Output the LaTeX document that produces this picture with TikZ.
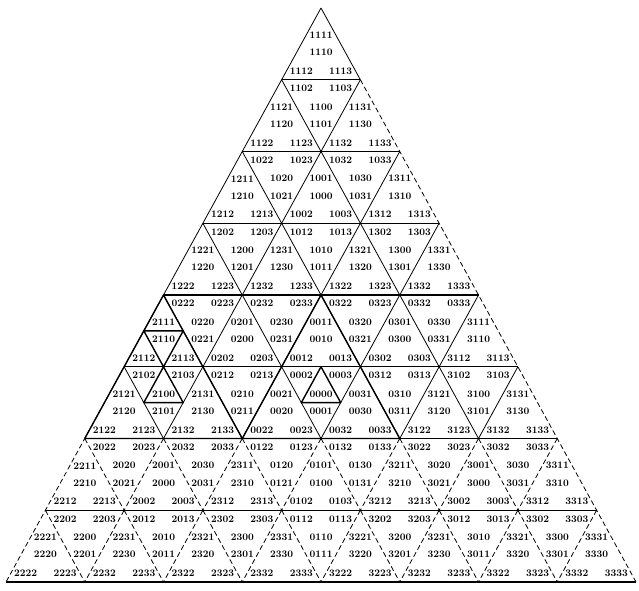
\documentclass[tikz,border=0pt]{standalone}
\usetikzlibrary{calc}
\tikzset{
  lbl/.style={font=\fontsize{10}{10}\selectfont\bfseries, inner sep=0pt},
  grid/.style={line width=0.8pt},
  broken/.style={line width=0.8pt, dash pattern=on 5pt off 3pt},
  rowline/.style={line width=1.4pt},
  hilite/.style={line width=1.4pt, line join=round}
}
% x, y of the corner, side, height, orientation (1 up, -1 down), address, level
\newcommand\subtri[7]{%
  \ifnum#7=4
    \node[lbl] (a#6) at (#1, {#2-(#5)*0.76*#4}) {#6};
  \else
    \begingroup
      \pgfmathsetmacro\qs{#3/2}%
      \pgfmathsetmacro\qh{#4/2}%
      \pgfmathsetmacro\ql{#1-#3/4}%
      \pgfmathsetmacro\qr{#1+#3/4}%
      \pgfmathsetmacro\qm{#2-(#5)*#4/2}%
      \pgfmathsetmacro\qb{#2-(#5)*#4}%
      \pgfmathtruncatemacro\qo{-(#5)}%
      \pgfmathtruncatemacro\qn{#7+1}%
      \edef\qcalls{%
        \noexpand\subtri{#1}{#2}{\qs}{\qh}{#5}{#61}{\qn}%
        \noexpand\subtri{\ql}{\qm}{\qs}{\qh}{#5}{#62}{\qn}%
        \noexpand\subtri{\qr}{\qm}{\qs}{\qh}{#5}{#63}{\qn}%
        \noexpand\subtri{#1}{\qb}{\qs}{\qh}{\qo}{#60}{\qn}}%
      \qcalls
    \endgroup
  \fi}
\begin{document}
\begin{tikzpicture}[x=1pt,y=1pt]
\useasboundingbox (0,0) rectangle (639,590);
\foreach \k in {0,...,8}
  \foreach \j in {0,...,\k}
    \coordinate (v\k-\j) at ({321+(\j-\k/2)*78.75}, {582-\k*71.75});
% slanted lines
\foreach \r in {0,...,5}{
  \pgfmathtruncatemacro\rn{\r+1}
  \foreach \j in {0,...,\r}{
    \pgfmathtruncatemacro\jn{\j+1}
    \ifnum\j>0 \draw[grid] (v\r-\j) -- (v\rn-\j); \fi
    \ifnum\j<\r \draw[grid] (v\r-\j) -- (v\rn-\jn); \fi
  }
}
\foreach \r in {6,7}{
  \pgfmathtruncatemacro\rn{\r+1}
  \foreach \j in {0,...,\r}{
    \pgfmathtruncatemacro\jn{\j+1}
    \ifnum\j>0 \draw[broken] (v\r-\j) -- (v\rn-\j); \fi
    \ifnum\j<\r \draw[broken] (v\r-\j) -- (v\rn-\jn); \fi
  }
}
\draw[grid] (v0-0) -- (v5-0);
\draw[broken] (v5-0) -- (v8-0);
\draw[grid] (v0-0) -- (v1-1);
\draw[broken] (v1-1) -- (v8-8);
% rows
\foreach \k in {1,...,8}
  \draw[rowline] (v\k-0) -- (v\k-\k);
% marked triangles
\draw[hilite] (v4-0) -- (v6-0) -- (v6-2) -- cycle;
\draw[hilite] (v4-2) -- (v6-2) -- (v6-4) -- cycle;
\draw[hilite] ($(v4-0)!.5!(v5-0)$) -- ($(v4-0)!.5!(v5-1)$) -- ($(v5-0)!.5!(v5-1)$) -- cycle;
\draw[hilite] ($(v5-0)!.5!(v5-1)$) -- ($(v5-0)!.5!(v6-1)$) -- ($(v5-1)!.5!(v6-1)$) -- cycle;
\draw[hilite] ($(v5-2)!.5!(v5-3)$) -- ($(v5-2)!.5!(v6-3)$) -- ($(v5-3)!.5!(v6-3)$) -- cycle;
% labels
\subtri{321}{582}{630}{574}{1}{}{0}
\end{tikzpicture}
\end{document}
